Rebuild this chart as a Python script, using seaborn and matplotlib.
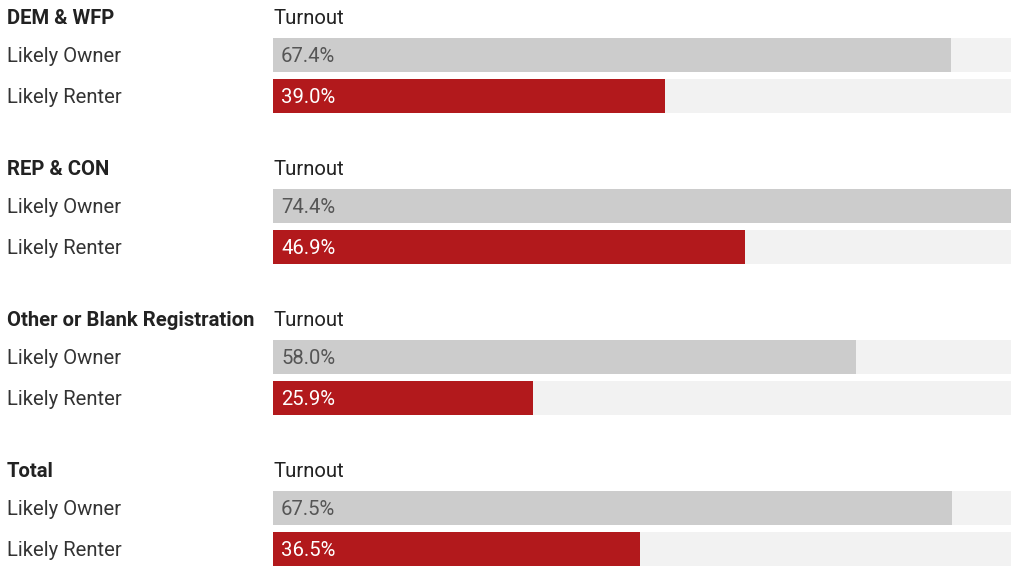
import matplotlib
matplotlib.use("Agg")
import matplotlib.pyplot as plt
import matplotlib.transforms as mtransforms
import seaborn as sns
import pandas as pd

groups = ["DEM & WFP", "REP & CON", "Other or Blank Registration", "Total"]
row_labels = ["Likely Owner", "Likely Renter"]
owner = [67.4, 74.4, 58.0, 67.5]
renter = [39.0, 46.9, 25.9, 36.5]
header_label = "Turnout"

W, H = 1011, 567
XMAX = 73.4
GROUP_PITCH = 151
HEADER_Y0 = 17
ROW_OFF = [38, 79]
TXT_DY = 1.5

sns.set_theme(style="white")
plt.rcParams['font.family'] = ['Roboto', 'DejaVu Sans']

fig = plt.figure(figsize=(W / 100, H / 100), dpi=100)
ax = fig.add_axes([273 / W, 0, (W - 273) / W, 1])

rows = []
for g, name in enumerate(groups):
    hy = HEADER_Y0 + GROUP_PITCH * g
    for r, (lab, vals) in enumerate(zip(row_labels, [owner, renter])):
        rows.append({"group": name, "row": lab, "value": vals[g],
                     "y": hy + ROW_OFF[r]})
df = pd.DataFrame(rows)
df["track"] = XMAX

bar_w = 34 / 41
sns.barplot(data=df, x="track", y="y", orient="y", native_scale=True,
            color="#f2f2f2", saturation=1, width=bar_w, ax=ax, errorbar=None,
            linewidth=0)
sns.barplot(data=df, x="value", y="y", hue="row", orient="y", native_scale=True,
            palette={"Likely Owner": "#cccccc", "Likely Renter": "#b2191c"},
            saturation=1, width=bar_w, ax=ax, errorbar=None, legend=False,
            dodge=False, linewidth=0)

ax.set_xlim(0, XMAX)
ax.set_ylim(H, 0)
ax.axis("off")

trans = mtransforms.blended_transform_factory(fig.transFigure, ax.transData)
fs = 14.6
for g, name in enumerate(groups):
    hy = HEADER_Y0 + GROUP_PITCH * g + TXT_DY
    ax.text(7 / W, hy, name, transform=trans, fontsize=fs, fontweight="bold",
            color="#222222", va="center", ha="left")
    ax.text(0, hy, header_label, fontsize=fs, color="#222222",
            va="center", ha="left")
for _, r in df.iterrows():
    ty = r["y"] + TXT_DY
    ax.text(7 / W, ty, r["row"], transform=trans, fontsize=fs,
            color="#333333", va="center", ha="left")
    is_owner = r["row"] == "Likely Owner"
    ax.text(0.8, ty, f"{r['value']:.1f}%", fontsize=fs,
            color="#555555" if is_owner else "white", va="center", ha="left")

fig.savefig("out.png", dpi=100, facecolor="white")
